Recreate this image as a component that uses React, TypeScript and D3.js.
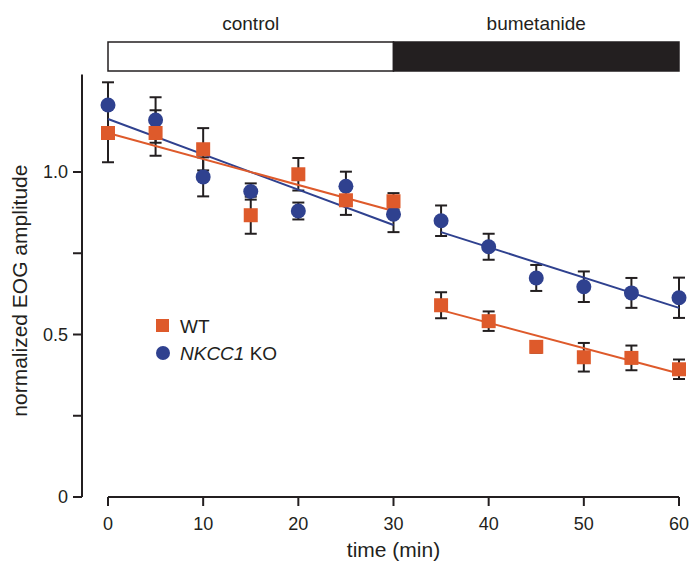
import React from "react";
import * as d3 from "d3";

const times = [0, 5, 10, 15, 20, 25, 30, 35, 40, 45, 50, 55, 60];
const wtMean = [1.12, 1.12, 1.07, 0.867, 0.993, 0.913, 0.91, 0.59, 0.541, 0.462, 0.43, 0.428, 0.393];
const wtErr = [0.09, 0.07, 0.065, 0.057, 0.05, 0.045, 0.025, 0.04, 0.03, 0.018, 0.044, 0.038, 0.03];
const koMean = [1.206, 1.16, 0.985, 0.94, 0.88, 0.956, 0.87, 0.85, 0.77, 0.674, 0.647, 0.628, 0.613];
const koErr = [0.07, 0.07, 0.06, 0.025, 0.026, 0.045, 0.055, 0.047, 0.04, 0.04, 0.047, 0.046, 0.062];

// fitted lines: [t0, v0, t1, v1]
const wtFits = [[0, 1.12, 30, 0.88], [35, 0.575, 60, 0.38]];
const koFits = [[0, 1.163, 30, 0.837], [35, 0.815, 60, 0.582]];

const yTicks = [0, 0.25, 0.5, 0.75, 1.0];
const yTickLabels: Record<string, string> = { "0": "0", "0.5": "0.5", "1": "1.0" };
const xTicks = [0, 10, 20, 30, 40, 50, 60];
const phases = [
  { label: "control", start: 0, end: 30, fill: "#ffffff" },
  { label: "bumetanide", start: 30, end: 60, fill: "#231f20" },
];

const ORANGE = "#de5a2b";
const BLUE = "#2f418f";
const INK = "#231f20";

export default function App() {
  const W = 691, H = 563;
  const x = d3.scaleLinear().domain([0, 60]).range([108, 679]);
  const y = d3.scaleLinear().domain([0, 1.3]).range([497, 74.5]);
  const axisX = 82;
  const font = "'Liberation Sans', Arial, Helvetica, sans-serif";
  const cap = 6;

  const errBars = (means: number[], errs: number[], key: string) =>
    times.map((t, i) => (
      <g key={key + i} stroke={INK} strokeWidth={2}>
        <line x1={x(t)} x2={x(t)} y1={y(means[i] - errs[i])} y2={y(means[i] + errs[i])} />
        <line x1={x(t) - cap} x2={x(t) + cap} y1={y(means[i] - errs[i])} y2={y(means[i] - errs[i])} />
        <line x1={x(t) - cap} x2={x(t) + cap} y1={y(means[i] + errs[i])} y2={y(means[i] + errs[i])} />
      </g>
    ));

  return (
    <svg width={W} height={H} style={{ position: "absolute", left: 0, top: 0 }} fontFamily={font}>
      <rect width={W} height={H} fill="#fff" />
      {/* phase bar */}
      {phases.map((p) => (
        <g key={p.label}>
          <rect x={x(p.start)} y={42} width={x(p.end) - x(p.start)} height={29} fill={p.fill} stroke={INK} strokeWidth={1.5} />
          <text x={(x(p.start) + x(p.end)) / 2} y={30} fontSize={19} textAnchor="middle" fill={INK}>{p.label}</text>
        </g>
      ))}
      {/* y axis */}
      <line x1={axisX} x2={axisX} y1={y(1.3)} y2={y(0)} stroke={INK} strokeWidth={2} />
      {yTicks.map((v) => (
        <g key={v}>
          <line x1={axisX - 9} x2={axisX} y1={y(v)} y2={y(v)} stroke={INK} strokeWidth={2} />
          {yTickLabels[String(v)] && (
            <text x={axisX - 14} y={y(v)} dy="0.35em" fontSize={18} textAnchor="end" fill={INK}>{yTickLabels[String(v)]}</text>
          )}
        </g>
      ))}
      <text transform={`translate(27,${y(0.635)}) rotate(-90)`} fontSize={21} textAnchor="middle" fill={INK}>normalized EOG amplitude</text>
      {/* x axis */}
      <line x1={x(0)} x2={x(60)} y1={497} y2={497} stroke={INK} strokeWidth={2} />
      {xTicks.map((t) => (
        <g key={t}>
          <line x1={x(t)} x2={x(t)} y1={497} y2={506} stroke={INK} strokeWidth={2} />
          <text x={x(t)} y={530} fontSize={18} textAnchor="middle" fill={INK}>{t}</text>
        </g>
      ))}
      <text x={x(30)} y={557} fontSize={21} textAnchor="middle" fill={INK}>time (min)</text>
      {/* error bars */}
      {errBars(wtMean, wtErr, "we")}
      {errBars(koMean, koErr, "ke")}
      {/* fit lines */}
      {koFits.map((f, i) => (
        <line key={"kf" + i} x1={x(f[0])} y1={y(f[1])} x2={x(f[2])} y2={y(f[3])} stroke={BLUE} strokeWidth={2} />
      ))}
      {wtFits.map((f, i) => (
        <line key={"wf" + i} x1={x(f[0])} y1={y(f[1])} x2={x(f[2])} y2={y(f[3])} stroke={ORANGE} strokeWidth={2} />
      ))}
      {/* markers */}
      {times.map((t, i) => (
        <circle key={"kc" + i} cx={x(t)} cy={y(koMean[i])} r={7.5} fill={BLUE} />
      ))}
      {times.map((t, i) => (
        <rect key={"ws" + i} x={x(t) - 7} y={y(wtMean[i]) - 7} width={14} height={14} fill={ORANGE} />
      ))}
      {/* legend */}
      <rect x={156} y={319} width={13} height={13} fill={ORANGE} />
      <text x={180} y={326} dy="0.35em" fontSize={19} fill={INK}>WT</text>
      <circle cx={163} cy={353} r={7} fill={BLUE} />
      <text x={180} y={353} dy="0.35em" fontSize={19} fill={INK}>
        <tspan fontStyle="italic">NKCC1</tspan> KO
      </text>
    </svg>
  );
}
